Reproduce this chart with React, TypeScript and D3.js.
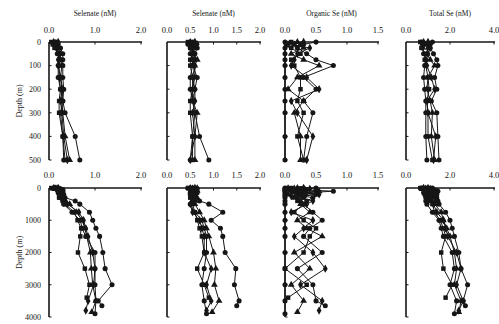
import * as d3 from "d3";

// depth (m) of the samples at each station
const DEPTH_A = [0, 10, 25, 50, 75, 100, 150, 200, 250, 300, 400, 500, 750, 1000, 1250, 1500, 2000, 2500, 3000, 3500, 3650];
const DEPTH_B = [0, 10, 25, 50, 75, 100, 150, 200, 250, 300, 400, 500, 750, 1000, 1250, 1500, 2000, 2500, 3000, 3500, 3850];
const DEPTH_C = [0, 10, 25, 50, 75, 100, 150, 200, 250, 300, 400, 500, 750, 1000, 1250, 1500, 2000, 2500, 3000, 3400];
const DEPTH_D = [0, 10, 25, 50, 75, 100, 150, 200, 250, 300, 400, 500, 750, 1000, 1250, 1500, 2000, 2500, 3000, 3500, 3800];
const DEPTH_E = [0, 10, 25, 50, 75, 100, 150, 200, 250, 300, 400, 500, 750, 1000, 1250, 1500, 2000, 2500, 3000, 3500, 3900];

const SELENATE_A = [0.15, 0.2, 0.25, 0.3, 0.3, 0.3, 0.3, 0.32, 0.3, 0.35, 0.57, 0.67, 0.88, 0.95, 1.02, 1.1, 1.17, 1.22, 1.37, 1.07, 1.15];
const SELENATE_B = [0.1, 0.12, 0.2, 0.25, 0.25, 0.28, 0.25, 0.3, 0.28, 0.3, 0.35, 0.45, 0.6, 0.72, 0.78, 0.82, 0.9, 0.92, 0.95, 1.02, 0.93];
const SELENATE_C = [0.05, 0.08, 0.12, 0.2, 0.22, 0.22, 0.22, 0.25, 0.22, 0.22, 0.3, 0.35, 0.55, 0.62, 0.7, 0.68, 0.63, 0.78, 0.88, 0.82];
const SELENATE_D = [0.2, 0.15, 0.18, 0.22, 0.2, 0.2, 0.25, 0.28, 0.25, 0.28, 0.32, 0.4, 0.65, 0.75, 0.8, 0.85, 0.95, 1.0, 0.97, 0.85, 0.8];
const SELENATE_E = [0.12, 0.1, 0.15, 0.18, 0.25, 0.2, 0.2, 0.25, 0.3, 0.25, 0.3, 0.32, 0.5, 0.68, 0.72, 0.8, 1.0, 1.0, 1.0, 1.02, 1.0];

const SELENITE_A = [0.55, 0.6, 0.65, 0.6, 0.6, 0.55, 0.65, 0.6, 0.55, 0.6, 0.7, 0.9, 1.2, 0.95, 1.15, 1.2, 1.25, 1.48, 1.45, 1.55, 1.5];
const SELENITE_B = [0.5, 0.55, 0.6, 0.55, 0.65, 0.6, 0.6, 0.55, 0.55, 0.65, 0.6, 0.6, 0.7, 0.8, 0.85, 0.9, 1.0, 1.05, 1.02, 1.12, 0.97];
const SELENITE_C = [0.45, 0.5, 0.5, 0.55, 0.5, 0.5, 0.55, 0.55, 0.5, 0.5, 0.55, 0.55, 0.6, 0.65, 0.7, 0.75, 0.8, 0.65, 0.8, 0.9];
const SELENITE_D = [0.6, 0.65, 0.55, 0.6, 0.55, 0.6, 0.55, 0.6, 0.6, 0.55, 0.6, 0.5, 0.55, 0.7, 0.75, 0.8, 0.8, 0.95, 0.85, 0.95, 0.85];
const SELENITE_E = [0.5, 0.45, 0.5, 0.5, 0.55, 0.55, 0.5, 0.5, 0.55, 0.6, 0.55, 0.5, 0.6, 0.75, 0.8, 0.85, 0.85, 0.8, 0.75, 0.8, 0.85];

const ORGANIC_A = [0.5, 0.3, 0.2, 0.35, 0.5, 0.78, 0.3, 0.5, 0.3, 0.45, 0.35, 0.3, 0.45, 0.6, 0.4, 0.3, 0.6, 0.2, 0.45, 0.5, 0.65];
const ORGANIC_B = [0.2, 0.15, 0.3, 0.1, 0.3, 0.55, 0.2, 0.05, 0.3, 0.15, 0.25, 0.25, 0.4, 0.2, 0.35, 0.6, 0.15, 0.4, 0.1, 0.3, 0.2];
const ORGANIC_C = [0.1, 0.25, 0.1, 0.25, 0.1, 0.15, 0.25, 0.25, 0.2, 0.3, 0.2, 0.3, 0.15, 0.3, 0.5, 0.4, 0.3, 0.0, 0.35, 0.05];
const ORGANIC_D = [0.3, 0.05, 0.4, 0.2, 0.15, 0.1, 0.35, 0.55, 0.1, 0.2, 0.45, 0.35, 0.1, 0.45, 0.3, 0.15, 0.45, 0.65, 0.25, 0.6, 0.55];
const ORGANIC_E = [0.0, 0.02, 0.0, 0.0, 0.0, 0.0, 0.0, 0.0, 0.0, 0.0, 0.0, 0.0, 0.0, 0.0, 0.0, 0.0, 0.0, 0.0, 0.0, 0.0, 0.0];

const TOTAL_A = [1.2, 1.1, 1.1, 1.25, 1.4, 1.45, 1.3, 1.4, 1.15, 1.4, 1.45, 1.5, 1.8, 2.0, 2.1, 2.2, 2.4, 2.5, 2.8, 2.6, 2.7];
const TOTAL_B = [0.8, 0.9, 1.0, 0.95, 1.1, 1.3, 1.0, 0.95, 1.1, 1.2, 1.15, 1.3, 1.6, 1.7, 1.85, 2.0, 2.2, 2.3, 2.2, 2.5, 2.4];
const TOTAL_C = [0.65, 0.85, 0.7, 0.9, 0.85, 0.9, 1.0, 1.05, 0.95, 1.0, 1.0, 1.2, 1.3, 1.55, 1.7, 1.8, 1.6, 1.7, 2.1, 1.8];
const TOTAL_D = [1.0, 0.8, 1.1, 1.0, 0.9, 0.95, 1.15, 1.3, 0.95, 1.0, 1.35, 1.25, 1.4, 1.7, 1.8, 1.9, 2.3, 2.5, 2.3, 2.6, 2.4];
const TOTAL_E = [0.7, 0.75, 0.75, 0.8, 0.9, 0.85, 0.8, 0.85, 0.9, 0.9, 0.9, 0.95, 1.2, 1.5, 1.6, 1.7, 2.1, 2.2, 2.0, 2.3, 2.2];

const TITLES = ["Selenate (nM)", "Selenate (nM)", "Organic Se (nM)", "Total Se (nM)"];
const X_TICKS = [[0, 1, 2], [0, 0.5, 1, 1.5, 2], [0, 0.5, 1, 1.5], [0, 2, 4]];
const X_MAX = [2, 2, 1.5, 4];
const DEPTH_TICKS_TOP = [0, 100, 200, 300, 400, 500];
const DEPTH_TICKS_BOTTOM = [0, 1000, 2000, 3000, 4000];

const DEPTHS = [DEPTH_A, DEPTH_B, DEPTH_C, DEPTH_D, DEPTH_E];
const VALUES = [
  [SELENATE_A, SELENATE_B, SELENATE_C, SELENATE_D, SELENATE_E],
  [SELENITE_A, SELENITE_B, SELENITE_C, SELENITE_D, SELENITE_E],
  [ORGANIC_A, ORGANIC_B, ORGANIC_C, ORGANIC_D, ORGANIC_E],
  [TOTAL_A, TOTAL_B, TOTAL_C, TOTAL_D, TOTAL_E],
];

const SYMBOLS = [d3.symbolCircle, d3.symbolTriangle, d3.symbolSquare, d3.symbolDiamond, d3.symbolCircle];
const INK = "#161616";
const FONT = "'Liberation Serif', 'DejaVu Serif', serif";

const COLS = [
  [49, 141],
  [167, 260],
  [285, 378],
  [406, 494],
];
const ROWS = [
  { range: [42, 160], max: 500, ticks: DEPTH_TICKS_TOP, labelY: 33 },
  { range: [188, 317], max: 4000, ticks: DEPTH_TICKS_BOTTOM, labelY: 178 },
];

function Panel({ col, row }: { col: number; row: number }) {
  const r = ROWS[row];
  const x = d3.scaleLinear().domain([0, X_MAX[col]]).range(COLS[col]);
  const y = d3.scaleLinear().domain([0, r.max]).range(r.range);
  const fmt = d3.format(".1f");
  const line = d3
    .line<[number, number]>()
    .x((d) => x(d[0]))
    .y((d) => y(d[1]));

  const [y0, y1] = r.range;
  const x0 = COLS[col][0];

  return (
    <g>
      {VALUES[col].map((vals, s) => {
        const pts = vals
          .map((v, i) => [v, DEPTHS[s][i]] as [number, number])
          .filter((p) => p[1] <= r.max);
        const sym = d3.symbol().type(SYMBOLS[s]).size(20);
        return (
          <g key={s}>
            <path d={line(pts) ?? ""} fill="none" stroke={INK} strokeWidth={1} />
            {pts.map((p, i) => (
              <path
                key={i}
                d={sym() ?? ""}
                transform={`translate(${x(p[0])},${y(p[1])})`}
                fill={INK}
              />
            ))}
          </g>
        );
      })}
      {/* axes */}
      <line x1={x0} x2={x0} y1={y0} y2={y1} stroke={INK} strokeWidth={1.6} />
      <line x1={x0} x2={COLS[col][1] + 1} y1={y0} y2={y0} stroke={INK} strokeWidth={1.6} />
      {X_TICKS[col].slice(1).map((t) => (
        <line key={t} x1={x(t)} x2={x(t)} y1={y0} y2={y0 + 2.5} stroke={INK} strokeWidth={1} />
      ))}
      {r.ticks.slice(1).map((t) => (
        <line key={t} x1={x0} x2={x0 + 2.5} y1={y(t)} y2={y(t)} stroke={INK} strokeWidth={1} />
      ))}
      {X_TICKS[col].map((t) => (
        <text
          key={t}
          x={x(t)}
          y={r.labelY}
          textAnchor="middle"
          fontSize={8.5}
          fontFamily={FONT}
          fill={INK}
        >
          {fmt(t)}
        </text>
      ))}
      {row === 0 && (
        <text
          x={(COLS[col][0] + COLS[col][1]) / 2}
          y={16}
          textAnchor="middle"
          fontSize={7.5}
          fontFamily={FONT}
          fill={INK}
        >
          {TITLES[col]}
        </text>
      )}
      {col === 0 && (
        <g>
          {r.ticks.map((t) => (
            <text
              key={t}
              x={41}
              y={y(t)}
              dy="0.35em"
              textAnchor="end"
              fontSize={8}
              fontFamily={FONT}
              fill={INK}
            >
              {t}
            </text>
          ))}
          <text
            transform={`translate(22,${(y0 + y1) / 2}) rotate(-90)`}
            textAnchor="middle"
            fontSize={8}
            fontFamily={FONT}
            fill={INK}
          >
            Depth (m)
          </text>
        </g>
      )}
    </g>
  );
}

export default function App() {
  return (
    <svg
      width={499}
      height={324}
      viewBox="0 0 499 324"
      style={{ position: "absolute", left: 0, top: 0, background: "#fff" }}
    >
      {[0, 1].map((row) =>
        [0, 1, 2, 3].map((col) => <Panel key={`${row}-${col}`} col={col} row={row} />),
      )}
    </svg>
  );
}
